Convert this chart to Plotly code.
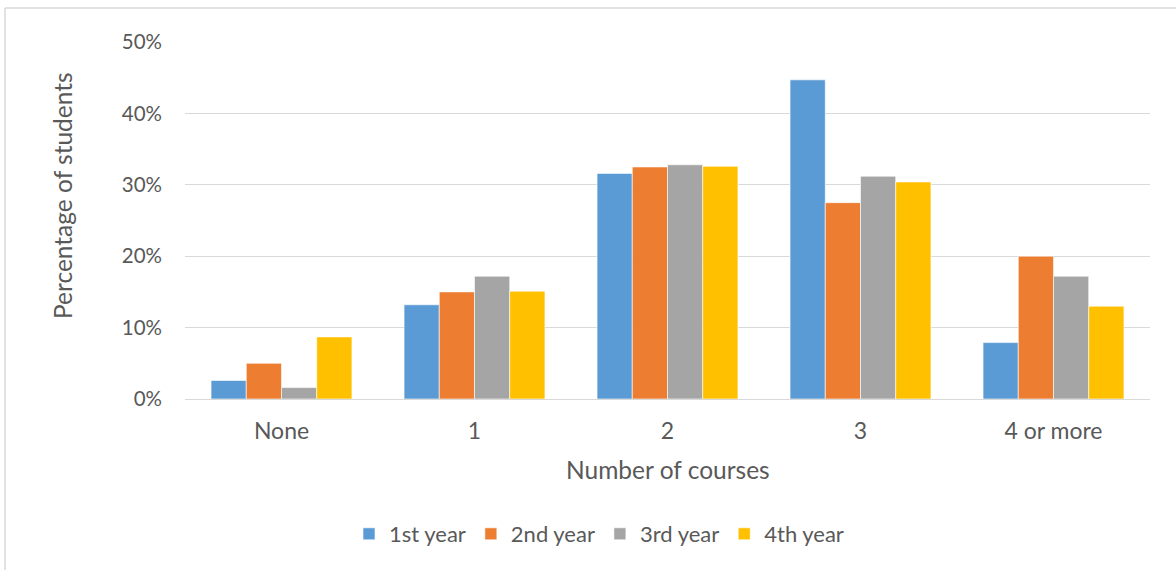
import plotly.graph_objects as go

categories = ["None", "1", "2", "3", "4 or more"]
series_names = ["1st year", "2nd year", "3rd year", "4th year"]
year1 = [0.026, 0.132, 0.316, 0.447, 0.079]
year2 = [0.050, 0.150, 0.325, 0.275, 0.200]
year3 = [0.016, 0.172, 0.328, 0.312, 0.172]
year4 = [0.087, 0.151, 0.326, 0.304, 0.130]
colors = ["#5B9BD5", "#ED7D31", "#A5A5A5", "#FFC000"]
y_ticks = [0, 0.1, 0.2, 0.3, 0.4, 0.5]
y_tick_labels = ["0%", "10%", "20%", "30%", "40%", "50%"]

FONT = "Lato"
TXT = "#595959"
W, H = 1176, 570
L, R, T, B = 185, 26, 42, 171
plot_w = W - L - R
plot_h = H - T - B


def px_x(x):
    return (x - L) / plot_w


def px_y(y):
    return (H - B - y) / plot_h


fig = go.Figure()
for name, vals, col in zip(series_names, [year1, year2, year3, year4], colors):
    fig.add_trace(go.Bar(
        x=categories, y=vals, name=name,
        marker=dict(color=col, line=dict(color="white", width=0.6)),
    ))

fig.update_layout(
    width=W, height=H,
    margin=dict(l=L, r=R, t=T, b=B),
    paper_bgcolor="white", plot_bgcolor="white",
    barmode="group", bargap=0.27, bargroupgap=0,
    font=dict(family=FONT, size=20, color=TXT),
    showlegend=True,
    legend=dict(orientation="h", x=px_x(599), xref="paper", xanchor="center",
                y=px_y(513), yanchor="top", font=dict(size=22, color=TXT),
                traceorder="normal"),
    xaxis=dict(showgrid=False, showline=False, zeroline=False,
               tickfont=dict(size=23, color=TXT), ticks="",
               ticklabelstandoff=16),
    yaxis=dict(range=[0, 0.5], tickvals=y_ticks, ticktext=y_tick_labels,
               showgrid=True, gridcolor="#D9D9D9", gridwidth=1.2,
               zeroline=True, zerolinecolor="#D9D9D9", zerolinewidth=1.2,
               showline=False, ticks="", ticklabelstandoff=22,
               tickfont=dict(size=20.5, color=TXT)),
    annotations=[
        dict(text="Percentage of students", x=px_x(62), y=px_y(196),
             xref="paper", yref="paper", showarrow=False, textangle=-90,
             font=dict(size=24.5, color=TXT), xanchor="center", yanchor="middle"),
        dict(text="Number of courses", x=0.5, y=px_y(469),
             xref="paper", yref="paper", showarrow=False,
             font=dict(size=24.5, color=TXT), xanchor="center", yanchor="middle"),
    ],
    shapes=[
        dict(type="line", xref="paper", yref="paper",
             x0=px_x(5), x1=px_x(W + 5), y0=px_y(8), y1=px_y(8),
             line=dict(color="#D9D9D9", width=1.5)),
        dict(type="line", xref="paper", yref="paper",
             x0=px_x(5), x1=px_x(5), y0=px_y(8), y1=px_y(H + 5),
             line=dict(color="#D9D9D9", width=1.5)),
    ],
)

fig.write_html("out.html",
               config={"displayModeBar": False},
               post_script="document.body.style.margin='0';document.body.style.overflow='hidden';")
